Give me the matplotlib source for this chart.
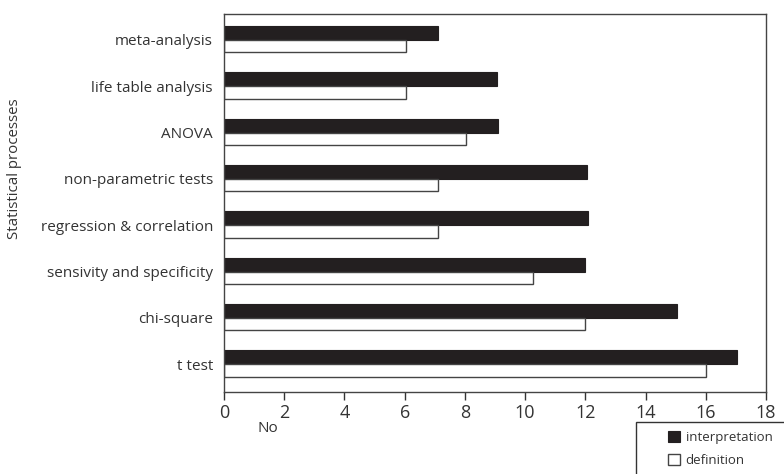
import matplotlib.pyplot as plt
from matplotlib.patches import Rectangle

# categories listed from bottom (t test) to top (meta-analysis)
processes = ["t test", "chi-square", "sensivity and specificity",
             "regression & correlation", "non-parametric tests",
             "ANOVA", "life table analysis", "meta-analysis"]
interpretation = [17.05, 15.05, 12.0, 12.1, 12.05, 9.1, 9.05, 7.1]
definition = [16.0, 12.0, 10.25, 7.1, 7.1, 8.05, 6.05, 6.05]
x_ticks = [0, 2, 4, 6, 8, 10, 12, 14, 16, 18]

plt.rcParams['font.family'] = ['Open Sans', 'DejaVu Sans']

fig = plt.figure(figsize=(7.84, 4.74), dpi=100)
ax = fig.add_axes([224 / 784, 1 - 392 / 474, 542 / 784, 378 / 474])

pos = list(range(len(processes)))
ax.barh(pos, interpretation, height=0.3, align='edge',
        color='#231f20', edgecolor='#231f20', linewidth=0.8,
        label='interpretation')
ax.barh(pos, definition, height=-0.27, align='edge',
        color='white', edgecolor='#444444', linewidth=1.0,
        label='definition')

ax.set_xlim(0, 18)
ax.set_ylim(-0.6, 7.56)
ax.set_xticks(x_ticks)
ax.set_xticklabels([str(t) for t in x_ticks], fontsize=13, color='#333333')
ax.set_yticks(pos)
ax.set_yticklabels(processes, fontsize=11, color='#333333')
ax.tick_params(axis='y', length=0, pad=8)
ax.tick_params(axis='x', length=6, width=1, color='#333333', pad=3)
for s in ax.spines.values():
    s.set_color('#444444')
    s.set_linewidth(1.0)

ax.set_ylabel("Statistical processes", fontsize=10.8, color='#333333')
ax.yaxis.set_label_coords(-0.372, 0.59)
fig.text(268 / 784, 1 - 429 / 474, "No", fontsize=11, color='#333333',
         ha='center', va='center')

# legend box (runs off the bottom-right of the figure)
fig.patches.append(Rectangle((636 / 784, -0.05), 0.3, 1 - 422 / 474 + 0.05,
                             transform=fig.transFigure, facecolor='white',
                             edgecolor='#333333', linewidth=1.0))
leg = fig.legend(loc='upper left', bbox_to_anchor=(660 / 784, 1 - 423 / 474),
                 frameon=False, fontsize=9.5, handlelength=0.9,
                 handleheight=0.9, handletextpad=0.45, labelspacing=0.75,
                 borderpad=0.1)
for t in leg.get_texts():
    t.set_color('#333333')

fig.savefig("out.png", dpi=100)
